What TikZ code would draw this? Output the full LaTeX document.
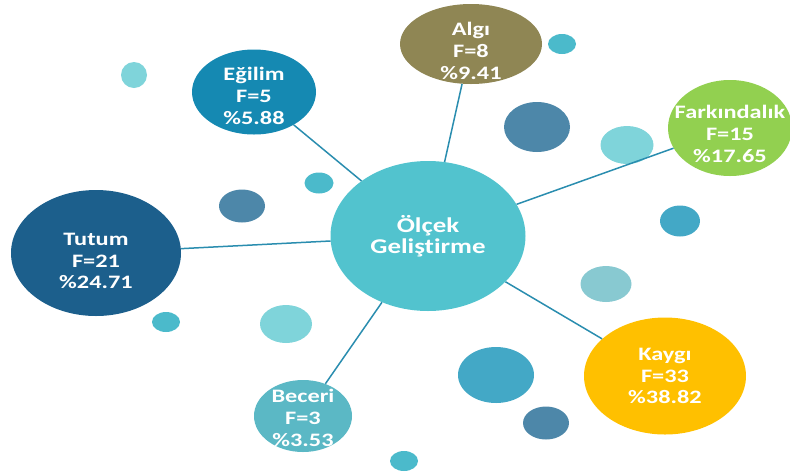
\documentclass[tikz,border=0pt]{standalone}
\usepackage{fontspec}
\setmainfont{Carlito}[FakeStretch=1.28,Ligatures=NoCommon]
\usetikzlibrary{shapes.geometric}
\definecolor{cmain}{HTML}{52C3CE}
\definecolor{calgi}{HTML}{8F8654}
\definecolor{cfark}{HTML}{92D050}
\definecolor{cegil}{HTML}{1589B2}
\definecolor{ctutum}{HTML}{1C5F8C}
\definecolor{cbeceri}{HTML}{5BB8C5}
\definecolor{ckaygi}{HTML}{FFC000}
\definecolor{clink}{HTML}{2A8DAF}
\definecolor{dlight}{HTML}{7FD4DA}
\definecolor{dcyan}{HTML}{4BBACB}
\definecolor{dmid}{HTML}{43A8C6}
\definecolor{dsteel}{HTML}{4D87A9}
\definecolor{dpale}{HTML}{88C9D1}
\tikzset{
  x=1pt,y=-1pt,
  bub/.style={ellipse,draw=none,inner sep=0pt},
  dot/.style={ellipse,draw=none,inner sep=0pt},
  lbl/.style={text=white,font=\fontsize{19}{21.8}\selectfont\bfseries,
    align=center,inner sep=0pt},
  biglbl/.style={lbl,font=\fontsize{21}{21}\selectfont\bfseries},
  link/.style={clink,line width=1.5pt},
}
\begin{document}
\begin{tikzpicture}
  \useasboundingbox (0,0) rectangle (790,475);
  % decorative dots
  \node[dot,fill=dlight,minimum width=26,minimum height=26] (d1) at (134,75) {};
  \node[dot,fill=dcyan,minimum width=28,minimum height=20] (d2) at (562,44) {};
  \node[dot,fill=dsteel,minimum width=66,minimum height=50] (d3) at (537,127) {};
  \node[dot,fill=dlight,minimum width=53,minimum height=38] (d4) at (627,145) {};
  \node[dot,fill=dcyan,minimum width=29,minimum height=21] (d5) at (319,183) {};
  \node[dot,fill=dsteel,minimum width=46,minimum height=33] (d6) at (242,206) {};
  \node[dot,fill=dmid,minimum width=40,minimum height=31] (d7) at (680,221) {};
  \node[dot,fill=dpale,minimum width=51,minimum height=36] (d8) at (606,284) {};
  \node[dot,fill=dcyan,minimum width=28,minimum height=20] (d9) at (166,322) {};
  \node[dot,fill=dlight,minimum width=52,minimum height=38] (d10) at (286,324) {};
  \node[dot,fill=dmid,minimum width=76,minimum height=56] (d11) at (496,375) {};
  \node[dot,fill=dsteel,minimum width=46,minimum height=33] (d12) at (546,423) {};
  \node[dot,fill=dcyan,minimum width=28,minimum height=20] (d13) at (404,461) {};
  % bubbles
  \node[bub,fill=cmain,minimum width=195,minimum height=150] (olcek) at (428,236) {};
  \node[bub,fill=calgi,minimum width=142,minimum height=80] (algi) at (471,44) {};
  \node[bub,fill=cfark,minimum width=124,minimum height=96] (fark) at (730,128) {};
  \node[bub,fill=cegil,minimum width=124,minimum height=85] (egilim) at (254,92) {};
  \node[bub,fill=ctutum,minimum width=170,minimum height=126] (tutum) at (96,253) {};
  \node[bub,fill=cbeceri,minimum width=98,minimum height=72] (beceri) at (303,416) {};
  \node[bub,fill=ckaygi,minimum width=162,minimum height=117] (kaygi) at (665,376) {};
  % links
  \draw[link] (olcek) -- (algi);
  \draw[link] (olcek) -- (fark);
  \draw[link] (olcek) -- (egilim);
  \draw[link] (olcek) -- (tutum);
  \draw[link] (olcek) -- (beceri);
  \draw[link] (olcek) -- (kaygi);
  % texts
  \node[biglbl] (olcek-t) at (olcek) {Ölçek\\Geliştirme};
  \node[lbl,yshift=-7pt] (algi-t) at (algi) {Algı\\F=8\\\%9.41};
  \node[lbl,yshift=-6pt] (fark-t) at (fark) {Farkındalık\\F=15\\\%17.65};
  \node[lbl,yshift=-4pt] (egilim-t) at (egilim) {Eğilim\\F=5\\\%5.88};
  \node[lbl,yshift=-8pt] (tutum-t) at (tutum) {Tutum\\F=21\\\%24.71};
  \node[lbl,yshift=-2pt] (beceri-t) at (beceri) {Beceri\\F=3\\\%3.53};
  \node[lbl] (kaygi-t) at (kaygi) {Kaygı\\F=33\\\%38.82};
\end{tikzpicture}
\end{document}
